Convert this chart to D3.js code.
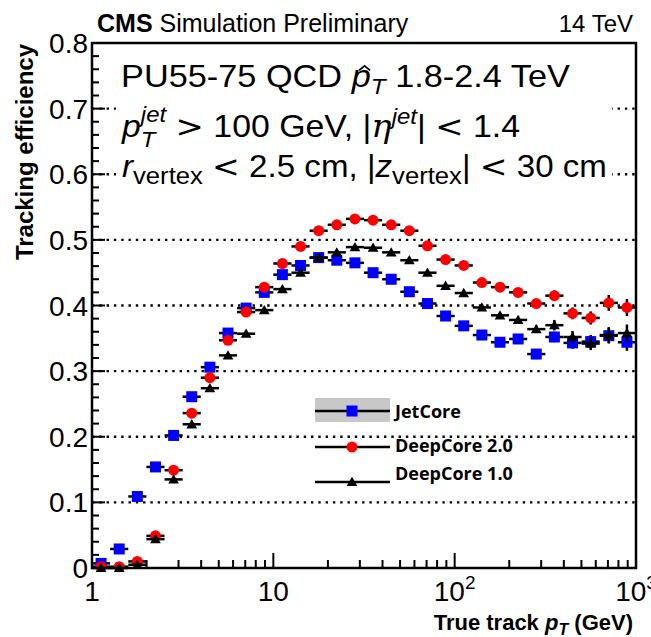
<!DOCTYPE html>
<html><head><meta charset="utf-8">
<script src="https://cdn.jsdelivr.net/npm/d3@7"></script>
<style>body{margin:0;background:#fff}svg{display:block}</style>
</head><body>
<svg id="c" width="651" height="637"></svg>
<script>
// ---- data ----
const binEdges = [1, 1.259, 1.585, 1.995, 2.512, 3.162, 3.981, 5.012, 6.310, 7.943,
  10, 12.59, 15.85, 19.95, 25.12, 31.62, 39.81, 50.12, 63.10, 79.43,
  100, 125.9, 158.5, 199.5, 251.2, 316.2, 398.1, 501.2, 631.0, 794.3, 1000];
const jetCore = [0.007,0.029,0.109,0.154,0.202,0.261,0.306,0.358,0.396,0.420,
  0.447,0.461,0.473,0.469,0.465,0.450,0.440,0.421,0.403,0.384,
  0.369,0.355,0.344,0.349,0.326,0.352,0.343,0.345,0.354,0.344];
const deepCore20 = [0.002,0.002,0.010,0.049,0.149,0.236,0.290,0.347,0.390,0.428,
  0.464,0.490,0.514,0.523,0.532,0.530,0.523,0.514,0.491,0.470,
  0.461,0.435,0.428,0.420,0.403,0.415,0.388,0.381,0.404,0.397];
const deepCore10 = [0.000,0.000,0.005,0.044,0.135,0.219,0.274,0.324,0.357,0.393,
  0.425,0.450,0.473,0.481,0.489,0.488,0.481,0.469,0.450,0.430,
  0.419,0.397,0.385,0.378,0.364,0.370,0.352,0.342,0.355,0.358];
const statErr = [0.002,0.002,0.002,0.002,0.002,0.002,0.002,0.002,0.002,0.002,
  0.002,0.002,0.002,0.002,0.002,0.002,0.002,0.002,0.003,0.003,
  0.003,0.003,0.004,0.005,0.006,0.008,0.009,0.010,0.012,0.013];
const yTicks = [0,0.1,0.2,0.3,0.4,0.5,0.6,0.7,0.8];
const yTickLabels = ["0","0.1","0.2","0.3","0.4","0.5","0.6","0.7","0.8"];
const xMajor = [1,10,100,1000];
const xMajorBase = ["1","10","10","10"];
const xMajorExp = ["","","2","3"];
const legendNames = ["JetCore","DeepCore 2.0","DeepCore 1.0"];

// ---- layout ----
const svg = d3.select("#c");
const L = 92, R = 636, T = 43, B = 568;
const x = d3.scaleLog().domain([1,1000]).range([L,R]);
const y = d3.scaleLinear().domain([0,0.8]).range([B,T]);
const SANS = "'Liberation Sans', Arial, Helvetica, sans-serif";

// grid
svg.append("g").selectAll("line").data(yTicks.filter(v=>v>0 && v<0.8)).join("line")
  .attr("x1",L).attr("x2",R).attr("y1",d=>y(d)).attr("y2",d=>y(d))
  .attr("stroke","#000").attr("stroke-width",2.4).attr("stroke-dasharray","2.4,4.9");

// white text pad
svg.append("rect").attr("x",116).attr("y",T+2).attr("width",496).attr("height",148).attr("fill","#fff");

// ticks y
const yMinor = d3.range(0,0.8001,0.02);
svg.append("g").selectAll("line").data(yMinor).join("line")
  .attr("x1",L).attr("x2",d=>L + (Math.abs(d*10-Math.round(d*10))<1e-6 ? 13 : 7))
  .attr("y1",d=>y(d)).attr("y2",d=>y(d)).attr("stroke","#000").attr("stroke-width",2);
// ticks x
const xMinor = [];
[1,10,100].forEach(b=>{for(let k=2;k<=9;k++) xMinor.push(b*k);});
svg.append("g").selectAll("line").data(xMinor).join("line")
  .attr("x1",d=>x(d)).attr("x2",d=>x(d)).attr("y1",B).attr("y2",B-8)
  .attr("stroke","#000").attr("stroke-width",2);
svg.append("g").selectAll("line").data(xMajor.slice(1,3)).join("line")
  .attr("x1",d=>x(d)).attr("x2",d=>x(d)).attr("y1",B).attr("y2",B-15)
  .attr("stroke","#000").attr("stroke-width",2);

// frame
svg.append("rect").attr("x",L).attr("y",T).attr("width",R-L).attr("height",B-T)
  .attr("fill","none").attr("stroke","#000").attr("stroke-width",2.5);

// y tick labels
svg.append("g").selectAll("text").data(yTicks).join("text")
  .attr("x",L-4).attr("y",d=>y(d)+10).attr("text-anchor","end")
  .attr("font-family",SANS).attr("font-size",28).text((d,i)=>yTickLabels[i]);

// x tick labels
xMajor.forEach((v,i)=>{
  const t = svg.append("text").attr("y",B+33).attr("font-family",SANS).attr("font-size",28);
  t.append("tspan").text(xMajorBase[i]);
  if (xMajorExp[i]) t.append("tspan").attr("font-size",19).attr("dy",-12).text(xMajorExp[i]);
  const w = t.node().getComputedTextLength();
  t.attr("x", Math.min(x(v) - w/2, 651 - w + 6));
});

// rich text helper
function rich(x0, y0, segs, anchor, fitWidth){
  const g = svg.append("g");
  let cx = 0, stackStart = null, stackMax = 0;
  segs.forEach(s=>{
    if (s.stack==="end") { cx = Math.max(cx, stackMax); stackStart=null; return; }
    if (s.stack==="start") { stackStart = cx; stackMax = cx; return; }
    if (stackStart!==null) cx = stackStart;
    const t = g.append("text").attr("x",cx).attr("y",s.dy||0)
      .attr("font-family", s.family || SANS).attr("font-size", s.size)
      .attr("font-style", s.it ? "italic" : "normal")
      .attr("font-weight", s.bold ? "bold" : "normal")
      .style("white-space","pre").text(s.t);
    const w = t.node().getComputedTextLength();
    if (s.hat) {
      const hx = cx + w/2 + 3, hy = (s.dy||0) - s.size*0.68, hw = s.size*0.16;
      g.append("path").attr("d",`M${hx-hw},${hy+hw*0.9} L${hx},${hy} L${hx+hw},${hy+hw*0.9}`)
        .attr("fill","none").attr("stroke","#000").attr("stroke-width",1.6);
    }
    cx += w;
    if (stackStart!==null) stackMax = Math.max(stackMax, cx);
  });
  const tw = cx;
  const sx = fitWidth ? fitWidth / tw : 1;
  g.attr("transform",`translate(${anchor==="end" ? x0-tw*sx : x0},${y0}) scale(${sx},1)`);
  return g;
}

// header
rich(97, 32, [{t:"CMS",size:25,bold:true},{t:" Simulation Preliminary",size:25}]);
rich(633, 32, [{t:"14 TeV",size:24}], "end");

// annotation lines
const F = 31, S = 22, MATH = "'DejaVu Sans', sans-serif";
rich(121, 87, [{t:"PU55-75 QCD ",size:F},{t:"p",size:F,it:true,hat:true},
  {t:"T",size:S,it:true,dy:7},{t:" 1.8-2.4 TeV",size:F}], "start", 449);
rich(122, 137, [{t:"p",size:F,it:true},{stack:"start"},{t:"jet",size:S,it:true,dy:-15},
  {t:"T",size:S,it:true,dy:10},{stack:"end"},{t:" ",size:F},{t:">",size:F,family:MATH},
  {t:" 100 GeV, |",size:F},
  {t:"\u03B7",size:F,it:true,family:"'DejaVu Serif', serif"},{t:"jet",size:S,it:true,dy:-13},
  {t:"| ",size:F},{t:"<",size:F,family:MATH},{t:" 1.4",size:F}], "start", 398);
rich(122, 177, [{t:"r",size:F,it:true},{t:"vertex",size:S+2,dy:7},{t:" ",size:F},
  {t:"<",size:F,family:MATH},{t:" 2.5 cm, |",size:F},
  {t:"z",size:F,it:true},{t:"vertex",size:S+2,dy:7},{t:"| ",size:F},
  {t:"<",size:F,family:MATH},{t:" 30 cm",size:F}], "start", 485);

// axis titles
rich(633, 630, [{t:"True track ",size:22,bold:true},{t:"p",size:22,bold:true,it:true},
  {t:"T",size:16,bold:true,it:true,dy:5},{t:" (GeV)",size:22,bold:true}], "end");
svg.append("text").attr("transform","translate(33,44) rotate(-90)")
  .attr("text-anchor","end").attr("font-family",SANS).attr("font-weight","bold")
  .attr("font-size",24).text("Tracking efficiency");

// data
const series = [
  {vals:jetCore, color:"#0000ff", sym:"square"},
  {vals:deepCore20, color:"#ff0000", sym:"circle"},
  {vals:deepCore10, color:"#000000", sym:"triangle"}
];
const bins = d3.range(binEdges.length-1);
function drawMarker(g, sym, color, cx, cy){
  if (sym==="square") g.append("rect").attr("x",cx-5.5).attr("y",cy-5.5).attr("width",11).attr("height",11).attr("fill",color);
  else if (sym==="circle") g.append("circle").attr("cx",cx).attr("cy",cy).attr("r",5.5).attr("fill",color);
  else g.append("path").attr("d",d3.symbol(d3.symbolTriangle,50)()).attr("transform",`translate(${cx},${cy+1})`).attr("fill",color);
}
series.forEach(s=>{
  const g = svg.append("g");
  g.selectAll("line.h").data(bins).join("line").attr("class","h")
    .attr("x1",i=>x(binEdges[i])).attr("x2",i=>x(binEdges[i+1]))
    .attr("y1",i=>y(s.vals[i])).attr("y2",i=>y(s.vals[i]))
    .attr("stroke","#000").attr("stroke-width",2.5);
  g.selectAll("line.v").data(bins).join("line").attr("class","v")
    .attr("x1",i=>x(Math.sqrt(binEdges[i]*binEdges[i+1]))).attr("x2",i=>x(Math.sqrt(binEdges[i]*binEdges[i+1])))
    .attr("y1",i=>y(s.vals[i]-statErr[i])).attr("y2",i=>y(s.vals[i]+statErr[i]))
    .attr("stroke","#000").attr("stroke-width",2.5);
  bins.forEach(i=>drawMarker(g, s.sym, s.color, x(Math.sqrt(binEdges[i]*binEdges[i+1])), y(s.vals[i])));
});

// legend
const lg = svg.append("g");
lg.append("rect").attr("x",315).attr("y",398).attr("width",75).attr("height",24).attr("fill","#c8c8c8");
const lys = [411, 447, 482];
legendNames.forEach((n,i)=>{
  lg.append("line").attr("x1",315).attr("x2",390).attr("y1",lys[i]).attr("y2",lys[i])
    .attr("stroke","#000").attr("stroke-width",2.5);
  drawMarker(lg, series[i].sym, series[i].color, 352, lys[i]);
  lg.append("text").attr("x",395).attr("y",[418,452,480][i]).attr("font-family","'Open Sans', 'DejaVu Sans', sans-serif")
    .attr("font-weight","bold").attr("font-size",18).text(n);
});
</script>
</body></html>
